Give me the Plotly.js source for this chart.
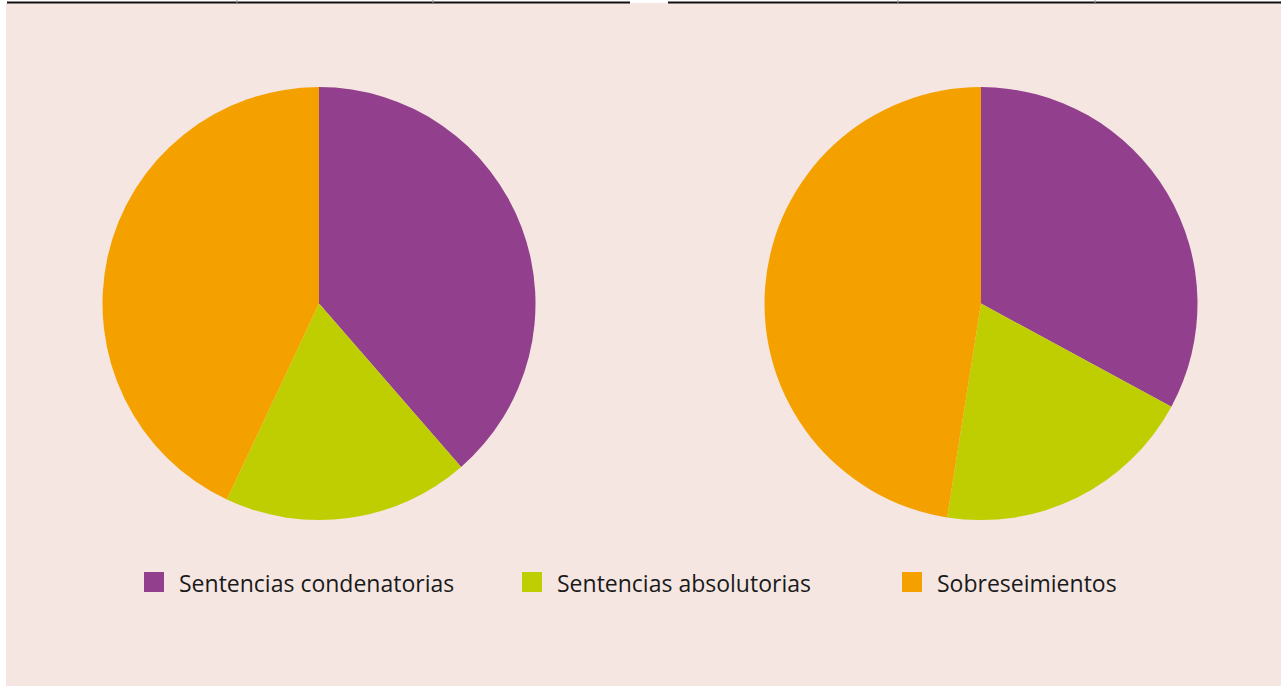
<!DOCTYPE html>
<html>
<head>
<meta charset="utf-8">
<script src="https://cdn.plot.ly/plotly-3.0.1.min.js"></script>
<style>
html,body{margin:0;padding:0;background:#ffffff;}
#chart{width:1281px;height:687px;}
</style>
</head>
<body>
<div id="chart"></div>
<script>
// Data
const categories = ["Sentencias condenatorias", "Sentencias absolutorias", "Sobreseimientos"];
const leftValues = [38.6, 18.4, 43.0];
const rightValues = [32.9, 19.6, 47.5];
const sliceColors = ["#923F8E", "#BFCE00", "#F4A100"];

const W = 1281, H = 687;
const px = x => x / W;
const py = y => 1 - y / H;

function pieTrace(values, x0, x1, name) {
  return {
    type: "pie",
    name: name,
    labels: categories,
    values: values,
    sort: false,
    direction: "clockwise",
    rotation: 0,
    textinfo: "none",
    hoverinfo: "label+percent",
    showlegend: false,
    marker: {colors: sliceColors, line: {width: 0}},
    domain: {x: [px(x0), px(x1)], y: [py(520.1), py(87.1)]}
  };
}

const data = [
  pieTrace(leftValues, 102.5, 535.5, "Izquierda"),
  pieTrace(rightValues, 764.5, 1197.5, "Derecha")
];

const shapes = [
  // background panel
  {type: "rect", xref: "paper", yref: "paper", x0: px(6), x1: 1, y0: py(686), y1: py(3),
   fillcolor: "#F5E6E2", line: {width: 0}, layer: "below"},
  // top rules
  {type: "line", xref: "paper", yref: "paper", x0: px(7), x1: px(630), y0: py(2.5), y1: py(2.5),
   line: {color: "#111111", width: 2}},
  {type: "line", xref: "paper", yref: "paper", x0: px(668), x1: 1, y0: py(2.5), y1: py(2.5),
   line: {color: "#111111", width: 2}},
];
[237, 433, 898, 1095].forEach(x => {
  shapes.push({type: "line", xref: "paper", yref: "paper", x0: px(x), x1: px(x), y0: py(0), y1: py(3),
    line: {color: "#999999", width: 1}});
});

// custom legend built from categories/colors
const legendX = [144, 522, 902];
const annotations = [];
categories.forEach((c, i) => {
  shapes.push({type: "rect", xref: "paper", yref: "paper",
    x0: px(legendX[i]), x1: px(legendX[i] + 20), y0: py(592), y1: py(572),
    fillcolor: sliceColors[i], line: {width: 0}});
  annotations.push({xref: "paper", yref: "paper", x: px(legendX[i] + 33), y: py(583),
    xanchor: "left", yanchor: "middle", showarrow: false, text: c,
    font: {family: "'Open Sans', Lato, sans-serif", size: 23, color: "#1a1a1a"}});
});

const layout = {
  width: W, height: H,
  margin: {l: 0, r: 0, t: 0, b: 0},
  paper_bgcolor: "#ffffff",
  showlegend: false,
  shapes: shapes,
  annotations: annotations
};

Plotly.newPlot("chart", data, layout, {displayModeBar: false, staticPlot: true});
</script>
</body>
</html>
